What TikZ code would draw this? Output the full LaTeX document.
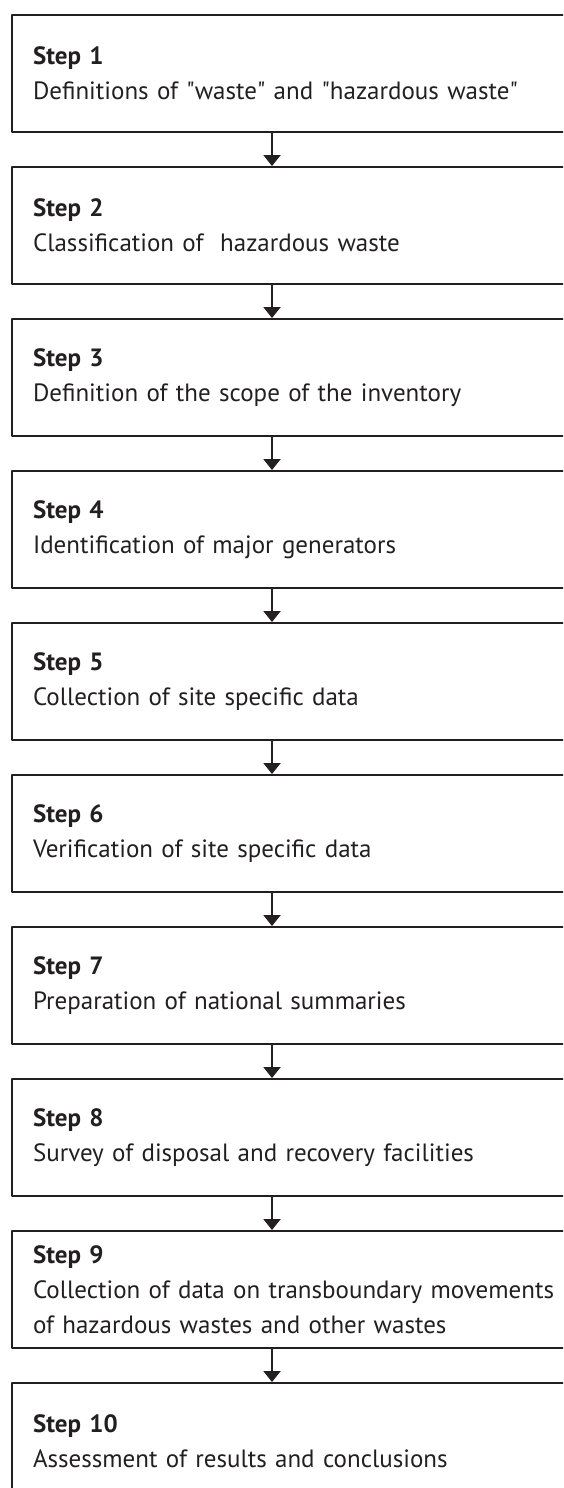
\documentclass[tikz,border=0pt]{standalone}
\usepackage{fontspec}
\setmainfont{PT Sans}
\usepackage{xcolor}
\usetikzlibrary{arrows.meta,positioning}
\definecolor{ink}{HTML}{231F20}
\tikzset{
    every picture/.style={line cap=round,line join=round},
    stepbox/.style={draw=ink,line width=1pt,anchor=north west,
      text width=300pt,minimum height=58.5pt,inner xsep=10.5pt,inner ysep=0pt,
      align=left,text=ink,font=\fontsize{12.5}{17.5}\selectfont},
    flowarrow/.style={-{Triangle[length=5.5pt,width=8.5pt]},draw=ink,
      line width=1pt}
}

\begin{document}
\begin{tikzpicture}
  \useasboundingbox (0,0) rectangle (281.5pt,-744pt);
  \clip (0,0) rectangle (281.5pt,-744pt);
  \coordinate (spine) at (136pt,0);
  \foreach \i/\txt in {1/{Definitions of \textquotedbl waste\textquotedbl{} and \textquotedbl hazardous waste\textquotedbl},
      2/{Classification of\ \ hazardous waste},
      3/{Definition of the scope of the inventory},
      4/{Identification of major generators},
      5/{Collection of site specific data},
      6/{Verification of site specific data},
      7/{Preparation of national summaries},
      8/{Survey of disposal and recovery facilities},
      9/{Collection of data on transboundary movements\\of hazardous wastes and other wastes},
      10/{Assessment of results and conclusions}} {
    \node[stepbox] (s\i) at (5.5pt,{-7pt-(\i-1)*76pt}) {\textbf{Step \i}\\\txt};
  }
  \foreach \i [remember=\i as \j (initially 1)] in {2,...,10} {
    \draw[flowarrow] (s\j.south -| spine) -- (s\i.north -| spine);
  }
\end{tikzpicture}
\end{document}
